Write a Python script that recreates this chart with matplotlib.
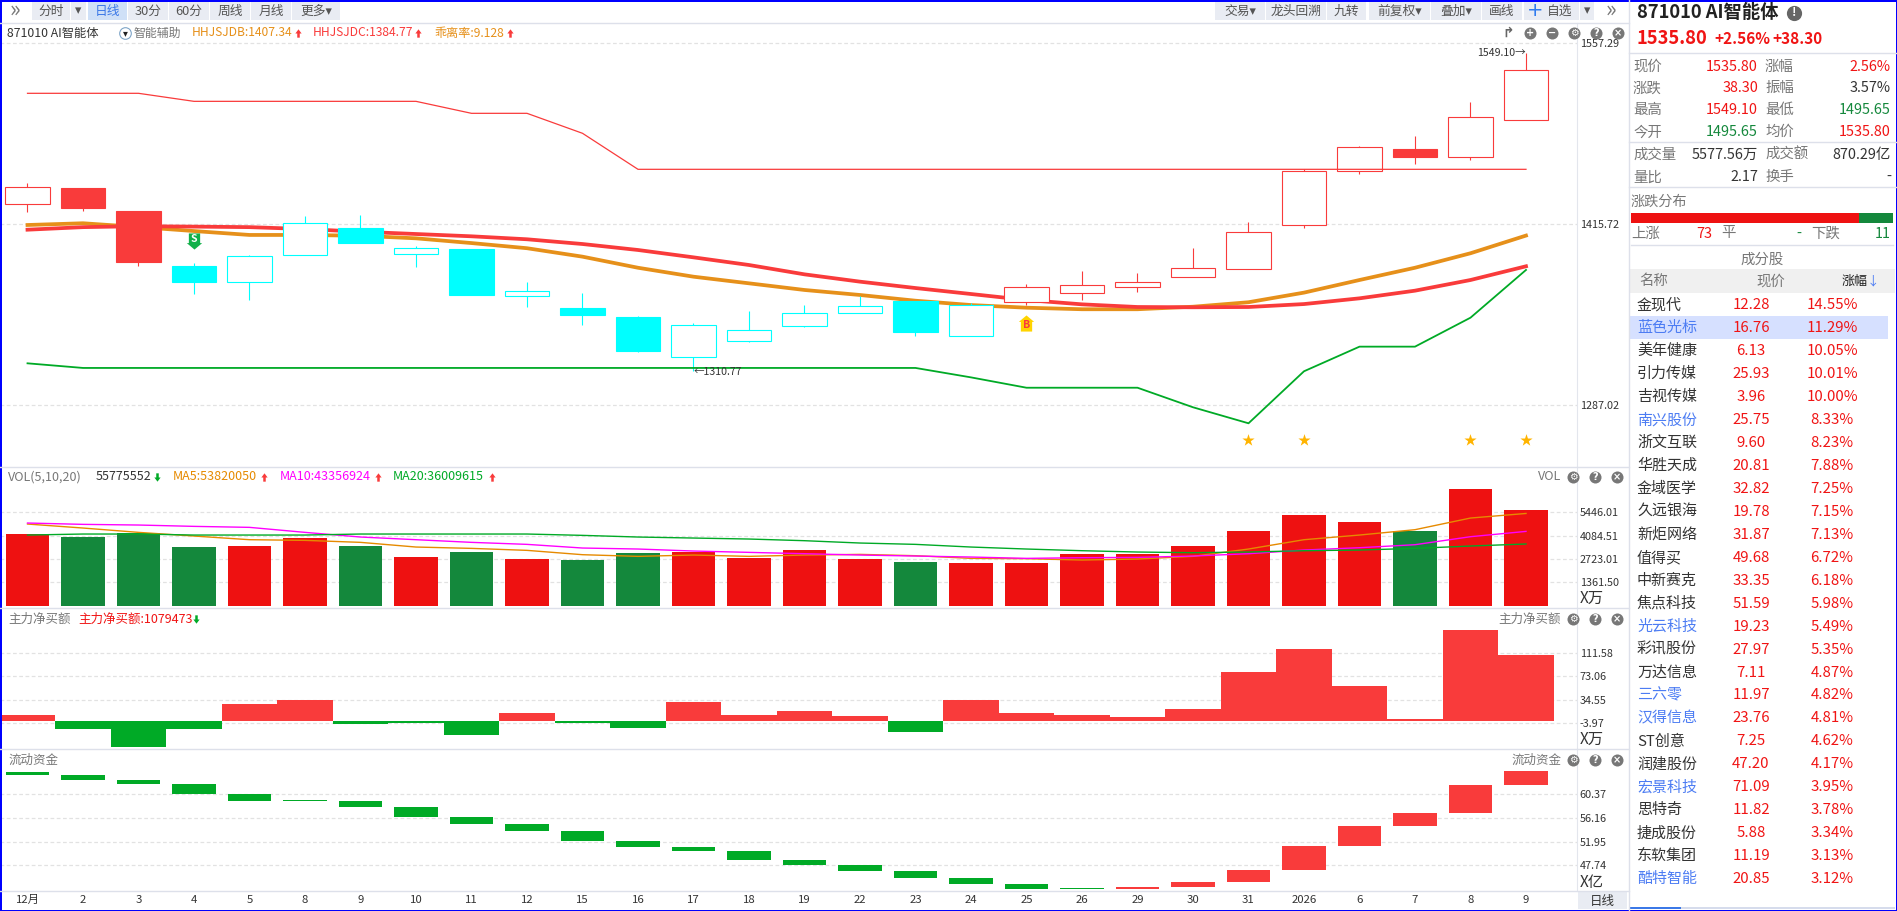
import matplotlib
matplotlib.use('Agg')
import matplotlib.pyplot as plt
from matplotlib.patches import Rectangle
from matplotlib.path import Path
from matplotlib.ticker import NullLocator

plt.rcParams['font.family'] = ['Noto Sans CJK SC', 'DejaVu Sans']

# 日期
dates = ['12月', '2', '3', '4', '5', '8', '9', '10', '11', '12', '15', '16', '17', '18', '19',
         '22', '23', '24', '25', '26', '29', '30', '31', '2026', '6', '7', '8', '9']

# K线
k_open = [1431.2, 1443.0, 1425.7, 1385.0, 1373.6, 1393.2, 1413.0, 1394.0, 1397.4, 1363.5, 1354.7, 1348.3,
          1320.4, 1331.6, 1342.1, 1351.3, 1359.7, 1335.1, 1359.2, 1365.7, 1370.0, 1377.2, 1383.0, 1415.4,
          1456.2, 1473.0, 1467.0, 1495.65]
k_high = [1446.8, 1443.0, 1425.7, 1387.2, 1393.0, 1421.9, 1422.7, 1399.6, 1397.4, 1373.3, 1365.5, 1349.0,
          1344.0, 1352.6, 1356.8, 1363.3, 1359.7, 1358.3, 1371.9, 1381.3, 1379.9, 1398.2, 1417.4, 1457.3,
          1475.3, 1483.1, 1509.9, 1549.10]
k_low = [1424.9, 1425.9, 1385.0, 1364.7, 1360.4, 1393.2, 1401.8, 1384.3, 1364.0, 1355.4, 1342.6, 1323.7,
         1310.77, 1330.6, 1341.2, 1351.3, 1335.1, 1335.1, 1356.8, 1360.4, 1366.2, 1377.2, 1383.0, 1413.0,
         1453.7, 1461.4, 1464.5, 1495.65]
k_close = [1443.6, 1427.9, 1387.9, 1373.3, 1392.1, 1416.5, 1401.8, 1398.0, 1364.0, 1366.6, 1349.7, 1324.4,
           1342.4, 1338.9, 1350.9, 1355.9, 1337.7, 1356.6, 1369.5, 1371.0, 1373.1, 1383.3, 1409.8, 1455.8,
           1474.3, 1467.0, 1497.8, 1535.80]
k_color = ['r', 'r', 'r', 'c', 'c', 'c', 'c', 'c', 'c', 'c', 'c', 'c', 'c', 'c', 'c', 'c', 'c', 'c',
           'r', 'r', 'r', 'r', 'r', 'r', 'r', 'r', 'r', 'r']

# 智能辅助指标线
hhjsjdb = [1415.2, 1416.5, 1413.7, 1410.7, 1407.8, 1407.8, 1407.2, 1405.3, 1401.8, 1398.0, 1391.8, 1383.7,
           1377.2, 1372.4, 1367.6, 1364.0, 1359.9, 1356.8, 1354.9, 1353.8, 1353.8, 1355.6, 1358.8, 1365.7,
           1374.8, 1383.7, 1394.3, 1407.34]
hhjsjdc = [1411.7, 1413.6, 1414.3, 1414.0, 1413.6, 1412.2, 1410.2, 1408.5, 1406.8, 1404.6, 1401.1, 1396.7,
           1391.3, 1385.7, 1378.9, 1373.6, 1369.0, 1364.7, 1360.4, 1357.3, 1355.4, 1355.2, 1355.4, 1357.5,
           1361.6, 1367.1, 1374.8, 1384.77]
upper = [1516.8, 1516.8, 1516.8, 1510.4, 1510.4, 1510.4, 1510.4, 1510.4, 1500.9, 1500.9, 1485.2, 1457.3,
         1457.3, 1457.3, 1457.3, 1457.3, 1457.3, 1457.3, 1457.3, 1457.3, 1457.3, 1457.3, 1457.3, 1457.3,
         1457.3, 1457.3, 1457.3, 1457.3]
lower = [1315.8, 1312.6, 1312.6, 1312.6, 1312.6, 1312.6, 1312.6, 1312.6, 1312.6, 1312.6, 1312.6, 1312.6,
         1312.6, 1312.6, 1312.6, 1312.6, 1312.6, 1306.1, 1299.0, 1299.0, 1299.0, 1285.7, 1274.9, 1310.3,
         1327.4, 1327.4, 1347.8, 1382.1]
price_ticks = [1557.29, 1415.72, 1287.02]

# 信号
star_idx = [22, 23, 26, 27]
star_price = [1263.7, 1263.7, 1263.7, 1263.7]
sell_idx, sell_price = 3, 1403.3
buy_idx, buy_price = 18, 1344.0

# 成交量 (万)
vol = [4201, 4026, 4260, 3443, 3501, 3968, 3501, 2859, 3151, 2742, 2684, 3093, 3151, 2801, 3268, 2742,
       2567, 2509, 2509, 3034, 3034, 3501, 4376, 5310, 4901, 4376, 6827, 5578]
vol_color = ['r', 'g', 'g', 'g', 'r', 'r', 'g', 'r', 'g', 'r', 'g', 'g', 'r', 'r', 'r', 'r', 'g', 'r',
             'r', 'r', 'r', 'r', 'r', 'r', 'r', 'g', 'r', 'r']
ma5 = [4765, 4532, 4279, 4065, 3851, 3812, 3696, 3423, 3345, 3229, 2976, 2879, 2956, 2879, 2956, 2995,
       2918, 2762, 2742, 2665, 2723, 2879, 3307, 3851, 4123, 4435, 5115, 5382]
ma10 = [4824, 4746, 4707, 4629, 4571, 4279, 4007, 3851, 3696, 3579, 3365, 3307, 3190, 3112, 3034, 2956,
        2898, 2840, 2762, 2801, 2820, 2898, 3034, 3248, 3384, 3559, 4026, 4336]
ma20 = [4123, 4182, 4182, 4123, 4123, 4123, 4182, 4182, 4182, 4182, 4104, 4007, 3948, 3890, 3793, 3657,
        3579, 3423, 3307, 3209, 3132, 3093, 3132, 3209, 3248, 3345, 3482, 3601]
vol_ticks = [5446.01, 4084.51, 2723.01, 1361.50]

# 主力净买额 (万)
net_buy = [9.9, -13.2, -42.9, -13.2, 28.1, 34.7, -5.0, -3.3, -23.1, 13.2, -3.3, -11.6, 31.4, 9.9, 16.5,
           8.3, -18.2, 34.7, 13.2, 9.9, 6.6, 19.8, 80.9, 118.9, 57.8, 3.3, 150.2, 107.95]
net_ticks = [111.58, 73.06, 34.55, -3.97]

# 流动资金 (亿)
flow_open = [64.34, 63.81, 62.92, 62.21, 60.43, 59.36, 59.18, 58.12, 56.34, 55.09, 53.85, 52.07, 51.00,
             50.29, 48.69, 47.80, 46.73, 45.49, 44.42, 43.71, 43.53, 43.88, 44.77, 46.91, 51.18, 54.74,
             57.05, 62.03]
flow_close = [63.81, 62.92, 62.21, 60.43, 59.18, 59.18, 58.12, 56.34, 55.09, 53.85, 52.07, 51.00, 50.29,
              48.69, 47.80, 46.73, 45.49, 44.42, 43.53, 43.53, 43.88, 44.77, 46.91, 51.18, 54.74, 57.05,
              62.03, 64.52]
flow_ticks = [60.37, 56.16, 51.95, 47.74]

# 右侧行情
quote_rows = [('现价', '1535.80', 'r', '涨幅', '2.56%', 'r'),
              ('涨跌', '38.30', 'r', '振幅', '3.57%', 'k'),
              ('最高', '1549.10', 'r', '最低', '1495.65', 'g'),
              ('今开', '1495.65', 'g', '均价', '1535.80', 'r'),
              ('成交量', '5577.56万', 'k', '成交额', '870.29亿', 'k'),
              ('量比', '2.17', 'k', '换手', '-', 'k')]
quote_y = [66.7, 88.3, 110.3, 132.3, 155, 177.3]

stock_names = ['金现代', '蓝色光标', '美年健康', '引力传媒', '吉视传媒', '南兴股份', '浙文互联', '华胜天成', '金域医学',
               '久远银海', '新炬网络', '值得买', '中新赛克', '焦点科技', '光云科技', '彩讯股份', '万达信息', '三六零',
               '汉得信息', 'ST创意', '润建股份', '宏景科技', '思特奇', '捷成股份', '东软集团', '酷特智能']
stock_prices = ['12.28', '16.76', '6.13', '25.93', '3.96', '25.75', '9.60', '20.81', '32.82', '19.78', '31.87',
                '49.68', '33.35', '51.59', '19.23', '27.97', '7.11', '11.97', '23.76', '7.25', '47.20', '71.09',
                '11.82', '5.88', '11.19', '20.85']
stock_pcts = ['14.55%', '11.29%', '10.05%', '10.01%', '10.00%', '8.33%', '8.23%', '7.88%', '7.25%', '7.15%',
              '7.13%', '6.72%', '6.18%', '5.98%', '5.49%', '5.35%', '4.87%', '4.82%', '4.81%', '4.62%', '4.17%',
              '3.95%', '3.78%', '3.34%', '3.13%', '3.12%']
blue_names = ['蓝色光标', '南兴股份', '光云科技', '三六零', '汉得信息', '宏景科技', '酷特智能']

W, H = 1897, 911
AX_RIGHT = 1577
RED = '#F93B3B'
BAR_RED = '#EE1111'
BAR_GREEN = '#14883C'
GREEN = '#00AA26'
CYAN = '#00FFFF'
ORANGE = '#E6901A'
TXT_RED = '#F01414'
GREY = '#777777'
DARK = '#333333'
LINE = '#DDE0EA'
BTN = '#E9ECF3'

fig = plt.figure(figsize=(W / 100, H / 100), dpi=100, facecolor='white')
x = list(range(len(dates)))


def panel(top, bottom, ticks, labels, ylim, log=False):
    ax = fig.add_axes([0, 1 - bottom / H, AX_RIGHT / W, (bottom - top) / H])
    if log:
        ax.set_yscale('log')
    ax.set_xlim((0 - 27.5) / 55.5, (AX_RIGHT - 27.5) / 55.5)
    ax.set_ylim(ylim)
    ax.set_yticks(ticks, labels=labels)
    ax.yaxis.set_minor_locator(NullLocator())
    ax.yaxis.tick_right()
    ax.tick_params(axis='y', which='both', length=0, pad=2, labelsize=7.8, labelcolor=DARK)
    ax.tick_params(axis='x', length=0)
    ax.set_xticks([])
    ax.grid(axis='y', which='major', linestyle=(0, (3, 2)), color='#E2E2E2', linewidth=0.9)
    ax.set_axisbelow(True)
    for name in ['top', 'left', 'bottom']:
        ax.spines[name].set_visible(False)
    ax.spines['right'].set_color('#E3E6ED')
    return ax


# 主图
ax1 = panel(23, 467, price_ticks, ['%.2f' % t for t in price_ticks], (1245.9, 1574.0), log=True)

ax1.plot(x, hhjsjdb, color=ORANGE, linewidth=2.7, zorder=2)
ax1.plot(x, hhjsjdc, color=RED, linewidth=2.7, zorder=2.1)
for i in x:
    col = RED if k_color[i] == 'r' else CYAN
    ax1.vlines(i, k_low[i], k_high[i], color=col, linewidth=0.8, zorder=3)
    top = max(k_open[i], k_close[i])
    bot = min(k_open[i], k_close[i])
    face = col if k_close[i] < k_open[i] else 'white'
    ax1.bar(i, top - bot, bottom=bot, width=0.8, facecolor=face, edgecolor=col, linewidth=0.8, zorder=3.1)
ax1.plot(x, upper, color=RED, linewidth=0.9, zorder=4)
ax1.plot(x, lower, color=GREEN, linewidth=1.3, zorder=4)

arrow_down = Path([(-.7, 1), (.7, 1), (.7, -.2), (.95, -.2), (0, -1), (-.95, -.2), (-.7, -.2), (-.7, 1)])
arrow_up = Path([(-.7, -1), (.7, -1), (.7, .2), (.95, .2), (0, 1), (-.95, .2), (-.7, .2), (-.7, -1)])
small_up = Path([(-.3, -1), (.3, -1), (.3, 0), (.75, 0), (0, 1), (-.75, 0), (-.3, 0), (-.3, -1)])
small_down = Path([(-.3, 1), (.3, 1), (.3, 0), (.75, 0), (0, -1), (-.75, 0), (-.3, 0), (-.3, 1)])
ax1.scatter([sell_idx], [sell_price], marker=arrow_down, s=135, color='#12B04A', linewidths=0, zorder=5)
ax1.annotate('S', (sell_idx, sell_price), xytext=(0, 1.2), textcoords='offset points', color='white',
             fontsize=7.6, fontweight='bold', ha='center', va='center', zorder=6)
ax1.scatter([buy_idx], [buy_price], marker=arrow_up, s=135, color='#FFD400', linewidths=0, zorder=5)
ax1.annotate('B', (buy_idx, buy_price), xytext=(0, -1.2), textcoords='offset points', color=RED,
             fontsize=7.6, fontweight='bold', ha='center', va='center', zorder=6)
ax1.scatter(star_idx, star_price, marker='*', s=85, color='#FFB400', linewidths=0, zorder=5)
ax1.annotate('1549.10→', (27, 1549.10), xytext=(0, 0), textcoords='offset points', ha='right', va='center',
             fontsize=7.6, color=DARK, zorder=6)
ax1.annotate('←1310.77', (12, 1310.77), xytext=(0, -1), textcoords='offset points', ha='left', va='center',
             fontsize=7.6, color=DARK, zorder=6)

# 成交量
ax2 = panel(467, 608, vol_ticks, ['%.2f' % t for t in vol_ticks], (-134, 8093))
ax2.bar(x, vol, width=0.79, color=[BAR_RED if c == 'r' else BAR_GREEN for c in vol_color], zorder=2)
ax2.plot(x, ma5, color='#E68A00', linewidth=1.0, zorder=3)
ax2.plot(x, ma10, color='#FF00FF', linewidth=1.0, zorder=3)
ax2.plot(x, ma20, color=GREEN, linewidth=1.0, zorder=3)

# 主力净买额
ax3 = panel(608, 749, net_ticks, ['%.2f' % t for t in net_ticks], (-46.6, 186.0))
ax3.bar(x, net_buy, width=1.0, color=[RED if v > 0 else GREEN for v in net_buy], zorder=2)

# 流动资金
ax4 = panel(749, 891, flow_ticks, ['%.2f' % t for t in flow_ticks], (43.17, 68.43))
for i in x:
    col = RED if flow_close[i] > flow_open[i] else GREEN
    ax4.bar(i, flow_close[i] - flow_open[i], bottom=flow_open[i], width=0.79, color=col, zorder=2)
ax4.set_xticks(x, labels=dates)
ax4.tick_params(axis='x', length=0, pad=3, labelsize=8.2, labelcolor=DARK)

# 界面覆盖层, 像素坐标
ui = fig.add_axes([0, 0, 1, 1], zorder=10)
ui.set_xlim(0, W)
ui.set_ylim(H, 0)
ui.axis('off')
ui.patch.set_alpha(0)


def T(px, py, s, color=DARK, size=8.2, ha='left', weight='normal', **kw):
    ui.text(px, py, s, color=color, fontsize=size, ha=ha, va='center', fontweight=weight, **kw)


def box(x0, y0, x1, y1, color):
    ui.add_patch(Rectangle((x0, y0), x1 - x0, y1 - y0, facecolor=color, edgecolor='none'))


def hline(y, x0=0, x1=1629):
    ui.plot([x0, x1], [y, y], color=LINE, linewidth=1.0)


def arrow(px, py, up=True, color=RED):
    ui.scatter([px], [py], marker=small_up if up else small_down, s=36, color=color, linewidths=0)


def icon(px, py, glyph):
    ui.scatter([px], [py], s=75, color='#777777', linewidths=0)
    T(px, py, glyph, color='white', size=7, ha='center', weight='bold', family='DejaVu Sans')


# 工具栏
btns = [(32, 70, '分时'), (71, 86, '▾'), (88, 126.5, '日线'), (128, 168, '30分'), (169, 209, '60分'), (210, 250, '周线'),
        (251, 291, '月线'), (292, 340, '更多▾'), (1215, 1265, '交易▾'), (1266, 1326, '龙头回溯'), (1327, 1366, '九转'),
        (1369, 1430, '前复权▾'), (1431, 1481, '叠加▾'), (1482, 1522, '画线'), (1580, 1594, '▾')]
for x0, x1, label in btns:
    active = label == '日线'
    box(x0, 1.5, x1, 20, '#CFE0F7' if active else BTN)
    T((x0 + x1) / 2, 11, label, color='#3B78E7' if active else '#555555', size=9.2, ha='center')
box(1524, 1.5, 1579, 20, BTN)
T(1535, 10.5, '+', color='#2F7BEF', size=14, ha='center', family='DejaVu Sans')
T(1560, 11, '自选', color='#555555', size=9.2, ha='center')
T(15, 10, '»', color=GREY, size=16, ha='center')
T(1611, 10, '»', color=GREY, size=16, ha='center')

for y in [22.5, 467, 608, 749, 891]:
    hline(y)

# 主图表头
T(7, 33, '871010 AI智能体', size=8.8)
ui.scatter([125], [33], s=70, facecolor='white', edgecolor='#7FA5C8', linewidths=0.8)
T(125, 33, '▾', color='#222222', size=7, ha='center')
T(134, 33, '智能辅助', color=GREY, size=8.6)
T(192, 33, 'HHJSJDB:1407.34', color=ORANGE, size=8.7)
arrow(298, 33)
T(313, 33, 'HHJSJDC:1384.77', color=RED, size=8.7)
arrow(418, 33)
T(434, 33, '乖离率:9.128', color=ORANGE, size=8.7)
arrow(510, 33)
for px, glyph in zip([1508, 1530, 1552, 1574, 1596, 1618], ['↱', '+', '−', '⚙', '?', '×']):
    if glyph == '↱':
        T(px, 33, '↱', color='#666666', size=10, ha='center', weight='bold', family='DejaVu Sans')
    else:
        icon(px, 33, glyph)

# 副图表头
T(8, 477, 'VOL(5,10,20)', color=GREY, size=9)
T(96, 477, '55775552', size=9)
arrow(157, 477, up=False, color=GREEN)
T(173, 477, 'MA5:53820050', color='#E68A00', size=9)
arrow(264, 477)
T(280, 477, 'MA10:43356924', color='#FF00FF', size=9)
arrow(378, 477)
T(393, 477, 'MA20:36009615', color=GREEN, size=9)
arrow(492, 477)
T(8, 619, '主力净买额', color=GREY, size=9)
T(78, 619, '主力净买额:1079473', color=TXT_RED, size=9)
arrow(196, 619, up=False, color=GREEN)
T(8, 760, '流动资金', color=GREY, size=9)
for y, label in [(477, 'VOL'), (619, '主力净买额'), (760, '流动资金')]:
    T(1561, y, label, color=GREY, size=9, ha='right')
    for px, glyph in zip([1573, 1595, 1617], ['⚙', '?', '×']):
        icon(px, y, glyph)
T(1580, 598, 'X万', size=11)
T(1580, 739, 'X万', size=11)
T(1580, 882, 'X亿', size=11)
box(1578, 892, 1627, 909, BTN)
T(1602, 901, '日线', size=9, ha='center')

# 右侧面板
col_map = {'r': TXT_RED, 'g': BAR_GREEN, 'k': DARK}
ui.plot([1629, 1629], [0, 911], color=LINE, linewidth=1.0)
T(1637, 12.5, '871010 AI智能体', size=13.2, weight='bold', color='#222222')
ui.scatter([1794], [13], s=120, color='#666666', linewidths=0)
T(1794, 13, '!', color='white', size=8.5, ha='center', weight='bold')
T(1637, 38, '1535.80', size=13.2, weight='bold', color=TXT_RED)
T(1714, 39, '+2.56%', size=11, weight='bold', color=TXT_RED)
T(1772, 39, '+38.30', size=11, weight='bold', color=TXT_RED)
hline(53, 1629, 1897)
for (a, av, ac, b, bv, bc), y in zip(quote_rows, quote_y):
    T(1633, y, a, color=GREY, size=10.4)
    T(1758, y, av, color=col_map[ac], size=10.4, ha='right')
    T(1765, y, b, color=GREY, size=10.4)
    T(1891, y, bv, color=col_map[bc], size=10.4, ha='right')
hline(142.3, 1629, 1897)
hline(187.3, 1629, 1897)
T(1631, 202, '涨跌分布', color=GREY, size=10.2)
box(1631, 212.5, 1893, 223, BAR_GREEN)
box(1631, 212.5, 1859, 223, BAR_RED)
T(1631, 233.5, '上涨', color=GREY, size=10.4)
T(1712, 233.5, '73', color=TXT_RED, size=10.4, ha='right')
T(1721, 233.5, '平', color=GREY, size=10.4)
T(1801, 233.5, '-', color=BAR_GREEN, size=10.4, ha='right')
T(1811, 233.5, '下跌', color=GREY, size=10.4)
T(1891, 233.5, '11', color=BAR_GREEN, size=10.4, ha='right')
hline(244.7, 1631, 1893)
T(1762, 259.5, '成分股', color=GREY, size=10.4, ha='center')
box(1629, 269.3, 1895, 293.3, '#F0F0F0')
T(1639, 281.5, '名称', color=GREY, size=10.4)
T(1771, 281.5, '现价', color=GREY, size=10.4, ha='center')
T(1842, 281.5, '涨幅', color='#222222', size=9.4)
T(1873, 281.5, '↓', color='#4C7CF3', size=9, ha='center')
box(1629, 316, 1888, 339, '#D6E0FF')
for i, name in enumerate(stock_names):
    y = 305 + i * 22.97
    T(1637, y, name, color='#4C7CF3' if name in blue_names else DARK, size=10.8)
    T(1751, y, stock_prices[i], color=TXT_RED, size=10.8, ha='center')
    T(1832, y, stock_pcts[i], color=TXT_RED, size=10.8, ha='center')
box(1629, 906.5, 1895, 909, '#D6DCEC')
box(1629, 906.5, 1681, 909, '#3B78E7')

# 窗口蓝框
box(0, 0, W, 1.5, '#0000FF')
box(0, 909.5, W, H, '#0000FF')
box(0, 0, 1.5, H, '#0000FF')
box(W - 1.5, 0, W, H, '#0000FF')

fig.savefig('out.png', dpi=100)
